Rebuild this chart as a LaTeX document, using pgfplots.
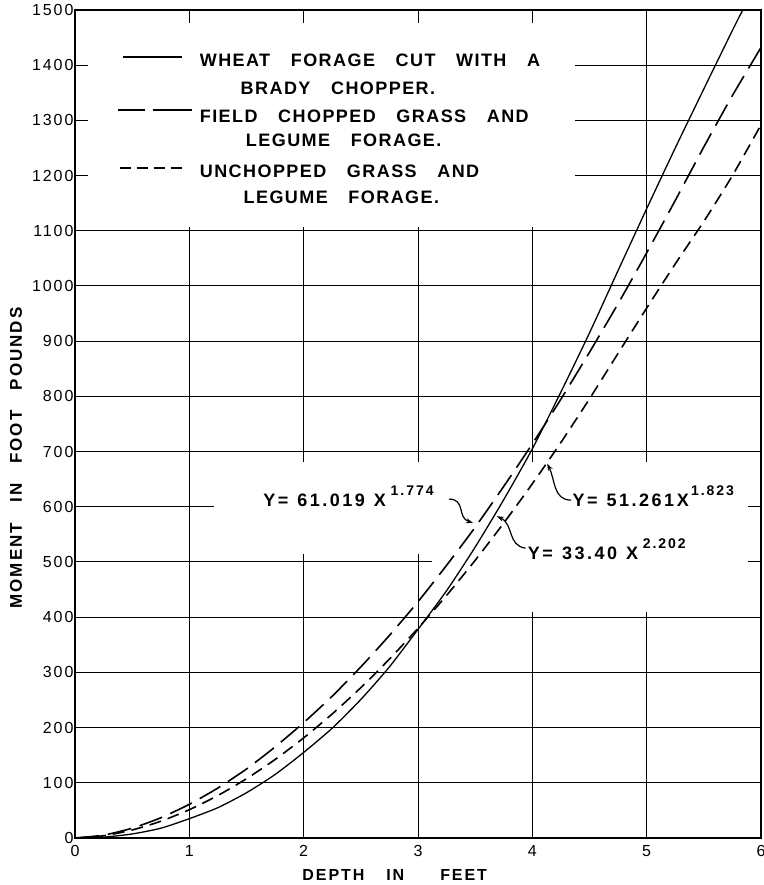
\documentclass[border=0pt]{standalone}
\usepackage{fontspec}
\setmainfont{Liberation Sans}
\newfontfamily\lett[LetterSpace=8,WordSpace=3.2]{Liberation Sans}
\newfontfamily\eqfont[LetterSpace=14,WordSpace=1.2]{Liberation Sans}
\newfontfamily\labfont[LetterSpace=12]{Liberation Sans}
\usepackage{pgfplots}
\pgfplotsset{compat=1.18}
\usetikzlibrary{arrows.meta}

\pgfplotstableread{
x y
0 0
0.25 1.6
0.5 7.3
0.75 17.7
1 35
1.25 55
1.5 82
1.75 115
2 155
2.25 199
2.5 251
2.75 310
3 378
3.25 448
3.5 527
3.75 613
4 705
4.25 808
4.5 915
4.75 1028
5 1140
5.25 1250
5.5 1357
5.75 1463
5.84 1500
}\wheat

\pgfplotstableread{
x y
0 0
0.25 5.2
0.5 17.8
0.75 36.6
1 61
1.25 90.6
1.5 125
1.75 165
2 209
2.25 257
2.5 310
2.75 367
3 428
3.25 494
3.5 563
3.75 637
4 714
4.25 795
4.5 880
4.75 968
5 1060
5.25 1155
5.5 1252
5.75 1345
6 1432
}\field

\pgfplotstableread{
x y
0 0
0.25 4.1
0.5 14.5
0.75 30.3
1 51.3
1.25 77
1.5 107.4
1.75 142.2
2 181.4
2.25 224.8
2.5 272.4
2.75 324.1
3 380
3.25 439.5
3.5 503
3.75 570.6
4 641.7
4.25 716.6
4.5 795.6
4.75 878
5 960
5.25 1040
5.5 1117
5.75 1200
6 1292
}\unchopped

\begin{document}
\begin{tikzpicture}
\begin{axis}[
  scale only axis, width=686pt, height=828pt,
  xmin=0, xmax=6, ymin=0, ymax=1500,
  xtick={0,1,2,3,4,5,6}, ytick={0,100,...,1500},
  grid=major, grid style={black, line width=1pt},
  axis line style={line width=1.8pt},
  major tick length=12pt,
  tick style={black, line width=1pt},
  tick label style={font=\labfont\fontsize{16}{16}\selectfont},
  /pgf/number format/assume math mode=true,
  /pgf/number format/1000 sep={},
  scaled ticks=false,
  yticklabel style={xshift=2pt},
  xticklabel style={yshift=-4pt},
  xlabel={DEPTH\hspace{22pt}IN\hspace{36pt}FEET},
  ylabel={MOMENT\hspace{20pt}IN\hspace{20pt}FOOT\hspace{20pt}POUNDS},
  xlabel style={at={(axis description cs:0.466,-0.0447)}, anchor=center, font=\labfont\bfseries\fontsize{16}{16}\selectfont},
  ylabel style={at={(axis description cs:-0.086,0.459)}, anchor=center, font=\labfont\bfseries\fontsize{17}{17}\selectfont},
]
% white areas behind legend and labels
\fill[white] (0.11,1106) rectangle (4.37,1476);
\fill[white] (1.22,515) rectangle (5.89,682);
\fill[white] (3.12,410) rectangle (5.89,515);

\addplot[black, line width=1.3pt, smooth, tension=0.4] table[x=x,y=y] {\wheat};
\addplot[black, line width=1.6pt, smooth, tension=0.4, dash pattern=on 24pt off 9pt] table[x=x,y=y] {\field};
\addplot[black, line width=1.6pt, smooth, tension=0.4, dash pattern=on 12pt off 7pt] table[x=x,y=y] {\unchopped};

% legend
\draw[black, line width=1.3pt] (0.42,1415) -- (0.94,1415);
\draw[black, line width=1.6pt] (0.38,1319) -- (0.61,1319);
\draw[black, line width=1.6pt] (0.68,1319) -- (1.02,1319);
\draw[black, line width=1.6pt, dash pattern=on 11pt off 6pt] (0.39,1214) -- (0.95,1214);
\begin{scope}[every node/.style={inner sep=0pt, font=\lett\bfseries\fontsize{18}{18}\selectfont}]
\node[anchor=base west] at (1.09,1397) {WHEAT FORAGE CUT WITH A};
\node[anchor=base] at (2.30,1346) {BRADY CHOPPER.};
\node[anchor=base west] at (1.09,1297) {FIELD CHOPPED GRASS AND};
\node[anchor=base] at (2.35,1252) {LEGUME FORAGE.};
\node[anchor=base west] at (1.09,1197) {UNCHOPPED GRASS AND};
\node[anchor=base] at (2.33,1150) {LEGUME FORAGE.};
\end{scope}
% equations
\begin{scope}[every node/.style={inner sep=0pt, font=\eqfont\bfseries\fontsize{18}{18}\selectfont}]
\node[anchor=base west] at (1.645,601) {Y= 61.019 X\raisebox{1.15ex}{\fontsize{14}{14}\selectfont\,\,1.774}};
\node[anchor=base west] at (3.96,504) {Y= 33.40 X\raisebox{1.15ex}{\fontsize{14}{14}\selectfont\,\,2.202}};
\node[anchor=base west] at (4.35,600) {Y= 51.261X\raisebox{1.15ex}{\fontsize{14}{14}\selectfont\,1.823}};
\end{scope}
% arrows
\draw[black, line width=1.2pt, -{Stealth[length=7pt,width=5pt]}] (3.27,614) .. controls (3.42,614) and (3.34,580) .. (3.48,571);
\draw[black, line width=1.2pt, -{Stealth[length=7pt,width=5pt]}] (3.94,525) .. controls (3.78,530) and (3.84,568) .. (3.69,583);
\draw[black, line width=1.2pt, -{Stealth[length=7pt,width=5pt]}] (4.34,612) .. controls (4.18,612) and (4.2,650) .. (4.13,678);
\end{axis}
\pgfresetboundingbox
\path[use as bounding box] ([xshift=-75pt,yshift=-47pt]current axis.south west) rectangle ([xshift=3pt,yshift=10pt]current axis.north east);
\end{tikzpicture}
\end{document}
